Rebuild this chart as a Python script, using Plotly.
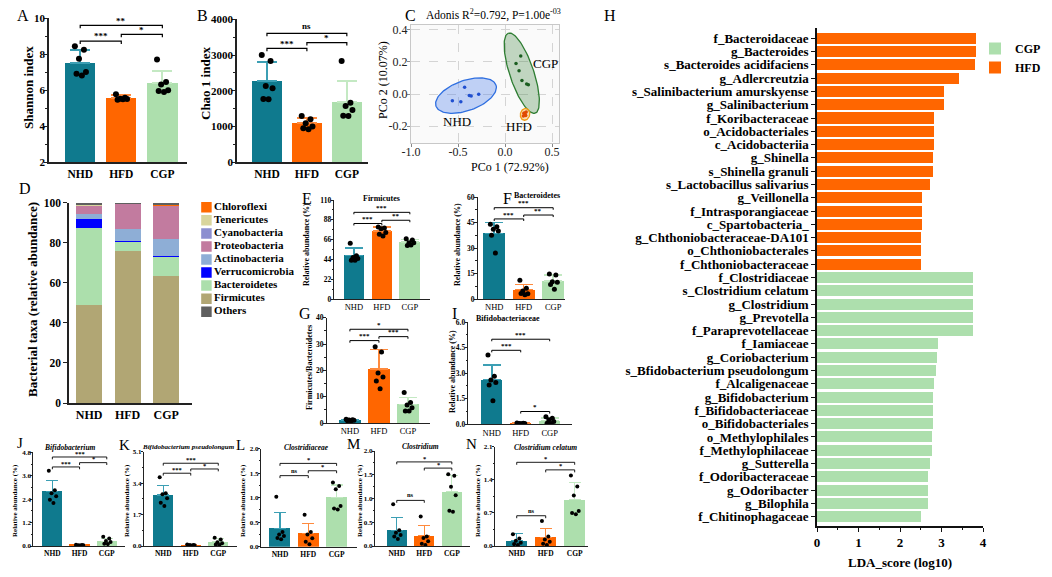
import numpy as np
import plotly.graph_objects as go

W, H = 1052, 577
SERIF = "Liberation Serif, Times New Roman, Times, serif"

GROUPS = ["NHD", "HFD", "CGP"]
BAR_COLORS = ["#0f7a8e", "#ff6600", "#addfad"]
ERR_COLORS = ["#3c9fb4", "#ff8a3d", "#c4e9c3"]

# ---------------- Panel A : Shannon index
A_MEAN = [7.52, 5.56, 6.39]
A_SD = [0.72, 0.15, 0.67]
A_PTS = [[8.43, 8.24, 7.74, 7.00, 6.90, 6.80],
         [5.76, 5.57, 5.52, 5.50, 5.46, 5.49],
         [7.69, 6.44, 6.31, 5.98, 5.94, 5.89]]
A_SIG_TEXT = ["**", "***", "*"]
A_SIG_LEVEL = [9.59, 8.72, 9.09]

# ---------------- Panel B : Chao 1 index
B_MEAN = [2275, 1091, 1697]
B_SD = [522, 140, 578]
B_PTS = [[3002, 2835, 2135, 2070, 1772, 1762],
         [1296, 1203, 1090, 998, 951, 923],
         [2835, 1669, 1576, 1464, 1305, 1296]]
B_SIG_TEXT = ["ns", "***", "*"]
B_SIG_LEVEL = [3608, 3189, 3347]

# ---------------- Panel C : PCoA
C_NHD_X = [-0.56, -0.47, -0.43, -0.38, -0.36, -0.28]
C_NHD_Y = [-0.042, -0.048, 0.042, -0.010, -0.012, -0.002]
C_CGP_X = [0.167, 0.117, 0.149, 0.180, 0.230, 0.248]
C_CGP_Y = [0.238, 0.190, 0.146, 0.085, 0.063, 0.058]
C_HFD_X = [0.200, 0.215, 0.225, 0.195, 0.210, 0.220]
C_HFD_Y = [-0.120, -0.130, -0.112, -0.138, -0.118, -0.134]
# ellipse: centre x, centre y, major semi-vector (x, y), minor semi-vector (x, y)
C_ELL_NHD = [-0.415, -0.010, 0.319, 0.066, -0.053, 0.089]
C_ELL_CGP = [0.178, 0.130, -0.143, 0.250, 0.121, 0.024]
C_ELL_HFD = [0.213, -0.127, 0.016, 0.036, 0.048, -0.0075]

# ---------------- Panel D : phylum composition (stack order bottom -> top)
D_PHYLA = ["Firmicutes", "Bacteroidetes", "Verrucomicrobia", "Actinobacteria",
           "Proteobacteria", "Cyanobacteria", "Tenericutes", "Chloroflexi", "Others"]
D_VALUES = {
    "Firmicutes":      [49.0, 75.7, 63.5],
    "Bacteroidetes":   [38.5, 5.0, 9.9],
    "Verrucomicrobia": [4.4, 0.1, 0.1],
    "Actinobacteria":  [2.6, 5.9, 8.3],
    "Proteobacteria":  [4.2, 13.0, 16.8],
    "Cyanobacteria":   [0.1, 0.05, 0.1],
    "Tenericutes":     [0.2, 0.05, 0.05],
    "Chloroflexi":     [0.3, 0.0, 0.05],
    "Others":          [0.7, 0.2, 1.2],
}
D_LEGEND_ORDER = ["Chloroflexi", "Tenericutes", "Cyanobacteria", "Proteobacteria",
                  "Actinobacteria", "Verrucomicrobia", "Bacteroidetes", "Firmicutes", "Others"]
PHYLA_COLORS = {"Chloroflexi": "#ff6a00", "Tenericutes": "#d9d59d", "Cyanobacteria": "#8c8fd0",
                "Proteobacteria": "#c27b9f", "Actinobacteria": "#8eaed6", "Verrucomicrobia": "#0000ff",
                "Bacteroidetes": "#acdfac", "Firmicutes": "#b1a674", "Others": "#5f5f5f"}

# ---------------- Panel E : Firmicutes
E_MEAN = [48.5, 75.5, 63.5]
E_SD = [8.0, 4.5, 2.5]
E_PTS = [[62, 48, 46, 45, 43, 43], [80, 79, 78, 74, 72, 70], [67, 65.5, 62.5, 62.5, 59.5, 60]]
E_SIG_TEXT = ["***", "***", "**"]
E_SIG_LEVEL = [96.3, 83.9, 87.5]

# ---------------- Panel F : Bacteroidetes
F_MEAN = [38.6, 5.5, 10.6]
F_SD = [6.5, 3.1, 3.5]
F_PTS = [[44, 42.5, 41, 40, 37.5, 27], [11, 6.3, 4.7, 3.1, 3.2, 2.5], [14.7, 14.1, 10.2, 9.8, 8.6, 5.7]]
F_SIG_TEXT = ["***", "***", "**"]
F_SIG_LEVEL = [53.7, 47.1, 49.4]

# ---------------- Panel G : Firmicutes/Bacteroidetes
G_MEAN = [1.2, 20.5, 7.1]
G_SD = [0.2, 7.5, 2.5]
G_PTS = [[1.4, 1.2, 1.1, 1.0, 0.9, 0.8], [29, 27, 19, 17.5, 16, 13], [11.6, 7.8, 6.8, 5.8, 4.6, 4.6]]
G_SIG_TEXT = ["*", "***", "***"]
G_SIG_LEVEL = [35.6, 31.3, 32.8]

# ---------------- Panel I : Bifidobacteriaceae
I_MEAN = [2.62, 0.05, 0.22]
I_SD = [0.85, 0.02, 0.15]
I_PTS = [[4.06, 2.82, 2.6, 2.45, 2.3, 1.38], [0.07, 0.06, 0.05, 0.05, 0.04, 0.03],
         [0.45, 0.35, 0.26, 0.16, 0.06, 0.05]]
I_SIG_TEXT = ["***", "***", "*"]
I_SIG_LEVEL = [4.99, 4.34, 0.75]

# ---------------- Panel J : Bifidobacterium
J_MEAN = [2.81, 0.04, 0.25]
J_SD = [0.56, 0.02, 0.15]
J_PTS = [[3.85, 2.85, 2.7, 2.55, 2.37, 2.2], [0.06, 0.05, 0.04, 0.04, 0.03, 0.02],
         [0.48, 0.38, 0.25, 0.2, 0.12, 0.1]]
J_SIG_TEXT = ["***", "***", "*"]
J_SIG_LEVEL = [4.56, 4.05, 4.27]

# ---------------- Panel K : Bifidobacterium pseudolongum
K_MEAN = [2.76, 0.05, 0.23]
K_SD = [0.51, 0.03, 0.17]
K_PTS = [[3.72, 2.85, 2.8, 2.58, 2.34, 2.17], [0.08, 0.06, 0.05, 0.04, 0.03, 0.02],
         [0.45, 0.35, 0.2, 0.15, 0.08, 0.05]]
K_SIG_TEXT = ["***", "***", "*"]
K_SIG_LEVEL = [4.48, 3.94, 4.17]

# ---------------- Panel L : Clostridiaceae
L_MEAN = [0.375, 0.27, 1.01]
L_SD = [0.32, 0.21, 0.25]
L_PTS = [[1.02, 0.3, 0.25, 0.22, 0.18, 0.15], [0.65, 0.3, 0.25, 0.17, 0.1, 0.05],
         [1.31, 1.24, 1.17, 0.83, 0.78, 0.76]]
L_SIG_TEXT = ["*", "ns", "*"]
L_SIG_LEVEL = [1.70, 1.45, 1.55]

# ---------------- Panel M : Clostridium
M_MEAN = [0.33, 0.22, 1.14]
M_SD = [0.27, 0.21, 0.35]
M_PTS = [[0.88, 0.33, 0.28, 0.23, 0.2, 0.15], [0.62, 0.2, 0.17, 0.1, 0.05, 0.02],
         [1.51, 1.48, 1.25, 1.07, 0.74, 0.72]]
M_SIG_TEXT = ["*", "ns", "*"]
M_SIG_LEVEL = [1.77, 0.96, 1.64]

# ---------------- Panel N : Clostridium celatum
N_MEAN = [0.11, 0.18, 0.98]
N_SD = [0.16, 0.19, 0.36]
N_PTS = [[0.25, 0.16, 0.11, 0.07, 0.04, 0.02], [0.53, 0.2, 0.14, 0.09, 0.05, 0.02],
         [1.49, 1.26, 1.07, 0.74, 0.7, 0.67]]
N_SIG_TEXT = ["*", "ns", "*"]
N_SIG_LEVEL = [1.77, 0.64, 1.61]

SIG_PAIRS = [(0, 2), (0, 1), (1, 2)]

# ---------------- Panel H : LEfSe LDA scores
H_HFD_NAMES = ["f_Bacteroidaceae", "g_Bacteroides", "s_Bacteroides acidifaciens", "g_Adlercreutzia",
               "s_Salinibacterium amurskyense", "g_Salinibacterium", "f_Koribacteraceae",
               "o_Acidobacteriales", "c_Acidobacteriia", "g_Shinella", "s_Shinella granuli",
               "s_Lactobacillus salivarius", "g_Veillonella", "f_Intrasporangiaceae",
               "c_Spartobacteria_", "g_Chthoniobacteraceae-DA101", "o_Chthoniobacterales",
               "f_Chthoniobacteraceae"]
H_HFD_LDA = [3.83, 3.83, 3.80, 3.41, 3.05, 3.05, 2.82, 2.82, 2.81, 2.80, 2.80, 2.72,
             2.53, 2.53, 2.52, 2.51, 2.51, 2.51]
H_CGP_NAMES = ["f_Clostridiaceae", "s_Clostridium celatum", "g_Clostridium", "g_Prevotella",
               "f_Paraprevotellaceae", "f_Iamiaceae", "g_Coriobacterium",
               "s_Bfidobacterium pseudolongum", "f_Alcaligenaceae", "g_Bifidobacterium",
               "f_Bifidobacteriaceae", "o_Bifidobacteriales", "o_Methylophilales",
               "f_Methylophilaceae", "g_Sutterella", "f_Odoribacteraceae", "g_Odoribacter",
               "g_Bilophila", "f_Chitinophagaceae"]
H_CGP_LDA = [3.76, 3.76, 3.76, 3.76, 3.76, 2.91, 2.88, 2.86, 2.82, 2.80, 2.80, 2.80,
             2.76, 2.76, 2.73, 2.67, 2.67, 2.67, 2.51]

# ======================================================================
fig = go.Figure()
layout = {}
annotations = []
shapes = []


def pxx(x):
    return x / W


def pxy(y):
    return 1 - y / H


def names(n):
    if n == 1:
        return "xaxis", "yaxis", "x", "y"
    return f"xaxis{n}", f"yaxis{n}", f"x{n}", f"y{n}"


def font(size, weight="normal", style="normal", color="black"):
    return dict(family=SERIF, size=size, weight=weight, style=style, color=color)


def text(t, x, y, size, weight="normal", style="normal", angle=0, color="black"):
    annotations.append(dict(text=t, x=pxx(x), y=pxy(y), xref="paper", yref="paper",
                            showarrow=False, textangle=angle, xanchor="center", yanchor="middle",
                            font=font(size, weight, style, color)))


JIT = [-0.13, 0.09, -0.03, 0.14, -0.09, 0.04]

ST_BIG = dict(bw=0.74, et=2.0, cap=10, ms=6, drop=0.02, blw=1.2, sfs=9, lw=1.5, tl=3, tw=1.2,
              xfs=11.5, xw="bold", yfs=11, yw="bold", mtl=2, so=-3)
ST_MID = dict(bw=0.74, et=1.5, cap=9, ms=5, drop=0.02, blw=1.0, sfs=7, lw=1.2, tl=2.5, tw=1.0,
              xfs=8.5, xw="normal", yfs=7.5, yw="bold", mtl=1.5, so=-2)
ST_SMALL = dict(bw=0.74, et=1.2, cap=6, ms=4, drop=0.025, blw=0.9, sfs=6.5, lw=1.0, tl=2, tw=0.9,
                xfs=7.5, xw="bold", yfs=7, yw="bold", mtl=1.2, so=-2)


def bar_panel(n, box, xr, yr, yticks, ytext, means, sds, pts, sig_text, sig_level, st, minor=True):
    xa, ya, xref, yref = names(n)
    for i in range(3):
        fig.add_trace(go.Bar(
            x=[i], y=[means[i]], width=st["bw"], xaxis=xref, yaxis=yref,
            marker=dict(color=BAR_COLORS[i], line=dict(width=0)),
            error_y=dict(type="data", array=[sds[i]], arrayminus=[0], symmetric=False,
                         color=ERR_COLORS[i], thickness=st["et"], width=st["cap"]),
            showlegend=False, hoverinfo="skip"))
    xs, ys = [], []
    for i, grp in enumerate(pts):
        for k, v in enumerate(grp):
            xs.append(i + JIT[k % len(JIT)])
            ys.append(v)
    fig.add_trace(go.Scatter(x=xs, y=ys, mode="markers", xaxis=xref, yaxis=yref,
                             marker=dict(color="black", size=st["ms"]), showlegend=False,
                             hoverinfo="skip"))
    drop = (yr[1] - yr[0]) * st["drop"]
    bx, by = [], []
    for (i, j), lev, lab in zip(SIG_PAIRS, sig_level, sig_text):
        bx += [i, i, j, j, None]
        by += [lev - drop, lev, lev, lev - drop, None]
        annotations.append(dict(x=(i + j) / 2, y=lev, xref=xref, yref=yref, text=lab,
                                showarrow=False, yanchor="bottom", xanchor="center",
                                yshift=(-st["sfs"] * 0.25 if "*" in lab else 0),
                                font=font(st["sfs"], "bold")))
    fig.add_trace(go.Scatter(x=bx, y=by, mode="lines", xaxis=xref, yaxis=yref,
                             line=dict(color="black", width=st["blw"]), showlegend=False,
                             hoverinfo="skip"))
    mv = [(a + b) / 2 for a, b in zip(yticks[:-1], yticks[1:])]
    layout[xa] = dict(domain=[pxx(box[0]), pxx(box[1])], anchor=yref, range=xr,
                      tickmode="array", tickvals=[0, 1, 2], ticktext=GROUPS,
                      showline=True, linecolor="#222", linewidth=st["lw"], ticks="",
                      showgrid=False, zeroline=False, automargin=False, fixedrange=True,
                      tickfont=font(st["xfs"], st["xw"]))
    yd = dict(domain=[pxy(box[3]), pxy(box[2])], anchor=xref, range=yr,
              tickmode="array", tickvals=yticks, ticktext=ytext,
              showline=True, linecolor="#222", linewidth=st["lw"], ticks="outside",
              ticklen=st["tl"], tickwidth=st["tw"], tickcolor="#222",
              showgrid=False, zeroline=False, automargin=False, fixedrange=True,
              ticklabelstandoff=st["so"], tickfont=font(st["yfs"], st["yw"]))
    if minor:
        yd["minor"] = dict(tickvals=mv, ticks="outside", ticklen=st["mtl"], tickwidth=st["tw"],
                           tickcolor="#222", showgrid=False)
    layout[ya] = yd


# ---- A
bar_panel(1, (49, 187, 18, 162), [-0.76, 2.6], [2, 10], [2, 4, 6, 8, 10],
          ["2", "4", "6", "8", "10"], A_MEAN, A_SD, A_PTS, A_SIG_TEXT, A_SIG_LEVEL, ST_BIG)
# ---- B
bar_panel(2, (237, 368, 19.3, 162.3), [-0.75, 2.53], [0, 4000], [0, 1000, 2000, 3000, 4000],
          ["0", "1000", "2000", "3000", "4000"], B_MEAN, B_SD, B_PTS, B_SIG_TEXT, B_SIG_LEVEL, ST_BIG)
# ---- E
bar_panel(6, (334.3, 430, 200, 299), [-0.70, 2.72], [0, 110], [0, 22, 44, 66, 88, 110],
          ["0", "22", "44", "66", "88", "110"], E_MEAN, E_SD, E_PTS, E_SIG_TEXT, E_SIG_LEVEL, ST_MID)
# ---- F
bar_panel(7, (477.7, 565, 197, 299), [-0.56, 2.40], [0, 60], [0, 15, 30, 45, 60],
          ["0", "15", "30", "45", "60"], F_MEAN, F_SD, F_PTS, F_SIG_TEXT, F_SIG_LEVEL, ST_MID)
# ---- G
bar_panel(8, (326.7, 430, 317.7, 423), [-0.80, 2.76], [0, 40], [0, 10, 20, 30, 40],
          ["0", "10", "20", "30", "40"], G_MEAN, G_SD, G_PTS, G_SIG_TEXT, G_SIG_LEVEL, ST_MID)
# ---- I
bar_panel(9, (468.3, 571.7, 322, 424.3), [-0.81, 2.76], [0, 6], [0, 1.5, 3, 4.5, 6],
          ["0.0", "1.5", "3.0", "4.5", "6.0"], I_MEAN, I_SD, I_PTS, I_SIG_TEXT, I_SIG_LEVEL, ST_MID)
# ---- J
bar_panel(10, (33.3, 125, 452.3, 546), [-0.70, 2.67], [0, 4.8], [0, 1.2, 2.4, 3.6, 4.8],
          ["0.0", "1.2", "2.4", "3.6", "4.8"], J_MEAN, J_SD, J_PTS, J_SIG_TEXT, J_SIG_LEVEL, ST_SMALL)
# ---- K
bar_panel(11, (144, 236.7, 451.8, 546), [-0.70, 2.67], [0, 5.1], [0, 1.7, 3.4, 5.1],
          ["0.0", "1.7", "3.4", "5.1"], K_MEAN, K_SD, K_PTS, K_SIG_TEXT, K_SIG_LEVEL, ST_SMALL)
# ---- L
bar_panel(12, (261, 356.7, 448.7, 546.7), [-0.67, 2.71], [0, 2.0], [0, 0.5, 1.0, 1.5, 2.0],
          ["0.0", "0.5", "1.0", "1.5", "2.0"], L_MEAN, L_SD, L_PTS, L_SIG_TEXT, L_SIG_LEVEL, ST_SMALL)
# ---- M
bar_panel(13, (375, 470, 451, 546), [-0.79, 2.66], [0, 2.0], [0, 0.5, 1.0, 1.5, 2.0],
          ["0.0", "0.5", "1.0", "1.5", "2.0"], M_MEAN, M_SD, M_PTS, M_SIG_TEXT, M_SIG_LEVEL, ST_SMALL)
# ---- N
bar_panel(14, (495, 588.3, 446.7, 546), [-0.75, 2.47], [0, 2.1], [0, 0.7, 1.4, 2.1],
          ["0.0", "0.7", "1.4", "2.1"], N_MEAN, N_SD, N_PTS, N_SIG_TEXT, N_SIG_LEVEL, ST_SMALL)

# ---- C : PCoA
t = np.linspace(0, 2 * np.pi, 120)
c_sets = [("NHD", C_NHD_X, C_NHD_Y, C_ELL_NHD, "#2f6fe0", "rgba(80,130,235,0.35)", "#1f4fd0"),
          ("CGP", C_CGP_X, C_CGP_Y, C_ELL_CGP, "#2e7d32", "rgba(60,130,60,0.30)", "#1b5e20"),
          ("HFD", C_HFD_X, C_HFD_Y, C_ELL_HFD, "#f39c12", "rgba(245,160,40,0.35)", "#e04a00")]
for g, xs, ys, e, lc, fc, pc in c_sets:
    ex = e[0] + e[2] * np.cos(t) + e[4] * np.sin(t)
    ey = e[1] + e[3] * np.cos(t) + e[5] * np.sin(t)
    fig.add_trace(go.Scatter(x=ex, y=ey, mode="lines", fill="toself", fillcolor=fc,
                             line=dict(color=lc, width=1.3), xaxis="x3", yaxis="y3",
                             showlegend=False, hoverinfo="skip"))
for g, xs, ys, e, lc, fc, pc in c_sets:
    fig.add_trace(go.Scatter(x=xs, y=ys, mode="markers", marker=dict(color=pc, size=3.5),
                             xaxis="x3", yaxis="y3", showlegend=False, hoverinfo="skip"))
C_LABELS = [("CGP", 0.43, 0.19), ("NHD", -0.51, -0.17), ("HFD", 0.15, -0.20)]
for lab, lx, ly in C_LABELS:
    annotations.append(dict(text=lab, x=lx, y=ly, xref="x3", yref="y3", showarrow=False,
                            font=font(13)))
layout["xaxis3"] = dict(domain=[pxx(411), pxx(559)], anchor="y3", range=[-1.0, 0.574],
                        tickmode="array", tickvals=[-1.0, -0.5, 0.0, 0.5],
                        ticktext=["-1.0", "-0.5", "0.0", "0.5"], showline=True, mirror=True,
                        linecolor="#c8c8c8", linewidth=1, ticks="outside", ticklen=3,
                        tickcolor="#888", showgrid=True, gridcolor="#d4d4d4", griddash="dash",
                        gridwidth=0.8, zeroline=False, automargin=False, ticklabelstandoff=-5,
                        tickfont=font(12, color="#222"))
layout["yaxis3"] = dict(domain=[pxy(143), pxy(25)], anchor="x3", range=[-0.306, 0.431],
                        tickmode="array", tickvals=[-0.2, 0.0, 0.2, 0.4],
                        ticktext=["-0.2", "0.0", "0.2", "0.4"], showline=True, mirror=True,
                        linecolor="#c8c8c8", linewidth=1, ticks="outside", ticklen=3,
                        tickcolor="#888", showgrid=True, gridcolor="#d4d4d4", griddash="dash",
                        gridwidth=0.8, zeroline=False, automargin=False, ticklabelstandoff=-3,
                        tickfont=font(12, color="#222"))
shapes.append(dict(type="rect", xref="x3 domain", yref="y3 domain", x0=0, x1=1, y0=0, y1=1,
                   fillcolor="#fafafa", line=dict(width=0), layer="below"))

# ---- D : stacked composition
for ph in D_PHYLA:
    fig.add_trace(go.Bar(x=[0, 1, 2], y=D_VALUES[ph], width=0.68, name=ph,
                         marker=dict(color=PHYLA_COLORS[ph], line=dict(width=0)),
                         xaxis="x4", yaxis="y4", showlegend=False, hoverinfo="skip"))
layout["xaxis4"] = dict(domain=[pxx(69), pxx(192)], anchor="y4", range=[-0.52, 2.67],
                        tickmode="array", tickvals=[0, 1, 2], ticktext=GROUPS, showline=True,
                        linecolor="#222", linewidth=1.5, ticks="", showgrid=False, zeroline=False,
                        automargin=False, tickfont=font(12, "bold"))
layout["yaxis4"] = dict(domain=[pxy(403), pxy(202.7)], anchor="x4", range=[0, 100],
                        tickmode="array", tickvals=[0, 20, 40, 60, 80, 100],
                        showline=True, linecolor="#222", linewidth=1.5, ticks="outside", ticklen=4,
                        tickwidth=1.2, tickcolor="#222", showgrid=False, zeroline=False,
                        automargin=False, tickfont=font(11.5, "bold"))
# D key (drawn as its own small categorical axis)
fig.add_trace(go.Scatter(x=[0] * len(D_LEGEND_ORDER), y=D_LEGEND_ORDER, mode="markers+text",
                         marker=dict(symbol="square", size=10.5,
                                     color=[PHYLA_COLORS[p] for p in D_LEGEND_ORDER]),
                         text=D_LEGEND_ORDER, textposition="middle right",
                         textfont=font(11, "bold"), xaxis="x5", yaxis="y5",
                         showlegend=False, hoverinfo="skip"))
layout["xaxis5"] = dict(domain=[pxx(200), pxx(300)], anchor="y5", range=[-0.55, 8],
                        visible=False, fixedrange=True)
layout["yaxis5"] = dict(domain=[pxy(318.2), pxy(200.8)], anchor="x5", type="category",
                        categoryorder="array", categoryarray=D_LEGEND_ORDER,
                        range=[len(D_LEGEND_ORDER) - 0.5, -0.5], visible=False, fixedrange=True)

# ---- H : LDA
H_ALL = H_HFD_NAMES + H_CGP_NAMES
fig.add_trace(go.Bar(x=H_HFD_LDA, y=H_HFD_NAMES, orientation="h", width=0.83, name="HFD",
                     marker=dict(color="#ff6600", line=dict(width=0)), xaxis="x15", yaxis="y15",
                     legendrank=2, hoverinfo="skip"))
fig.add_trace(go.Bar(x=H_CGP_LDA, y=H_CGP_NAMES, orientation="h", width=0.83, name="CGP",
                     marker=dict(color="#addfad", line=dict(width=0)), xaxis="x15", yaxis="y15",
                     legendrank=1, hoverinfo="skip"))
layout["xaxis15"] = dict(domain=[pxx(817), pxx(983)], anchor="y15", range=[0, 4.0],
                         tickmode="array", tickvals=[0, 1, 2, 3, 4], showline=True,
                         linecolor="#111", linewidth=1.5, ticks="outside", ticklen=4, tickwidth=1.2,
                         tickcolor="#111", showgrid=False, zeroline=False, automargin=False,
                         minor=dict(tickvals=[0.5, 1.5, 2.5, 3.5], ticks="outside", ticklen=2.5,
                                    tickwidth=1, tickcolor="#111"),
                         tickfont=font(13, "bold"))
layout["yaxis15"] = dict(domain=[pxy(526), pxy(28.3)], anchor="x15", type="category",
                         categoryorder="array", categoryarray=H_ALL,
                         range=[len(H_ALL) - 1 + 0.70, -0.75], tickmode="array",
                         tickvals=H_ALL, ticktext=H_ALL, showline=True, linecolor="#111",
                         linewidth=1.5, ticks="outside", ticklen=4, tickwidth=1, tickcolor="#111",
                         showgrid=False, zeroline=False, automargin=False,
                         tickfont=font(13, "bold"))

# ---- texts: titles and panel letters
text("Shannon index", 28, 88, 13, "bold", angle=-90)
text("Chao 1 index", 205, 84, 13, "bold", angle=-90)
text("PCo 2 (10.07%)", 383, 80, 12, angle=-90)
text("PCo 1 (72.92%)", 510, 167, 12)
text("Adonis R<sup>2</sup>=0.792, P=1.00e<sup>-03</sup>", 493, 14, 11.5)
text("Bacterial taxa (relative abundance)", 32, 300, 13, "bold", angle=-90)
text("Relative abundance (%)", 307, 245, 8, "bold", angle=-90)
text("Relative abundance (%)", 458, 245, 8, "bold", angle=-90)
text("Firmicutes/Bacteroidetes", 310, 368, 8, "bold", angle=-90)
text("Relative abundance (%)", 452, 372, 8, "bold", angle=-90)
for xx in [15, 127, 243, 360, 478]:
    text("Relative abundance (%)", xx, 501, 7, "bold", angle=-90)
text("Firmicutes", 381, 198, 8, "bold")
text("Bacteroidetes", 537, 195, 8, "bold")
text("Bifidobacteriaceae", 508, 318, 8, "bold")
text("Bifidobacterium", 70, 447, 7.5, "bold", "italic")
text("Bifidobacterium pseudolongum", 188, 447, 7, "bold", "italic")
text("Clostridiaceae", 306, 447, 7.5, "bold", "italic")
text("Clostridium", 420, 446, 7.5, "bold", "italic")
text("Clostridium celatum", 545, 447, 7.5, "bold", "italic")
text("LDA_score (log10)", 900, 562, 13, "bold")

for lab, lx, ly in [("A", 23, 15), ("B", 202, 15), ("C", 410, 15), ("D", 25, 188),
                    ("E", 307, 198), ("F", 507, 198), ("G", 305, 313), ("I", 454, 313),
                    ("H", 610, 15)]:
    text(lab, lx, ly, 16)
for lab, lx, ly in [("J", 20, 443), ("K", 124, 445), ("L", 240, 445), ("M", 353, 444),
                    ("N", 471, 444)]:
    text(lab, lx, ly, 15)

fig.update_layout(
    width=W, height=H, margin=dict(l=0, r=0, t=0, b=0),
    paper_bgcolor="white", plot_bgcolor="white", barmode="stack", hovermode=False,
    showlegend=True,
    legend=dict(x=pxx(975), y=pxy(34), xanchor="left", yanchor="top", traceorder="normal",
                font=font(12, "bold"), bgcolor="rgba(0,0,0,0)", borderwidth=0,
                itemwidth=30, tracegroupgap=0),
    annotations=annotations, shapes=shapes, **layout)

fig.write_html("out.html", config={"displayModeBar": False},
               post_script="document.body.style.margin='0px';document.body.style.padding='0px';")
